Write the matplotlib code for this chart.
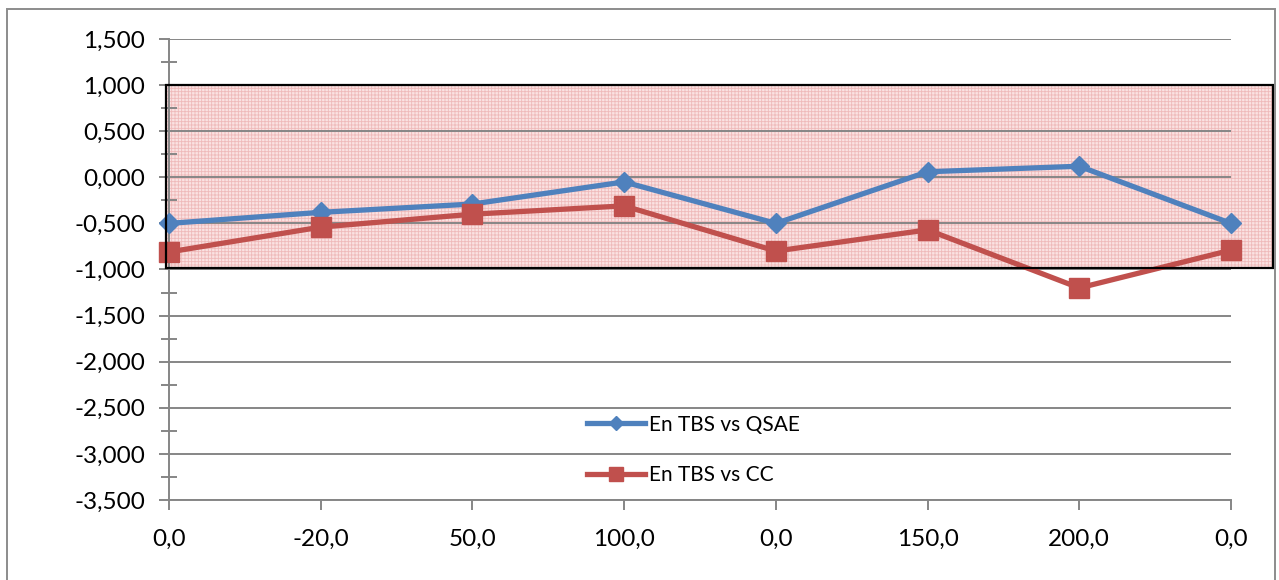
import matplotlib
matplotlib.use("Agg")
import matplotlib.pyplot as plt
from matplotlib.patches import Rectangle
import numpy as np

# category labels along the bottom axis
categories = ["0,0", "-20,0", "50,0", "100,0", "0,0", "150,0", "200,0", "0,0"]

# En values per category
en_qsae = [-0.50, -0.38, -0.29, -0.05, -0.50, 0.06, 0.12, -0.50]
en_cc = [-0.81, -0.54, -0.40, -0.31, -0.80, -0.57, -1.20, -0.79]

# acceptance band |En| <= 1
band_low, band_high = -0.98, 1.0

plt.rcParams["font.family"] = ["Lato", "DejaVu Sans"]
plt.rcParams["hatch.linewidth"] = 0.6

W, H = 1279, 580
fig = plt.figure(figsize=(W / 100, H / 100), dpi=100)
ax = fig.add_axes([169 / W, 1 - 500 / H, (1231 - 169) / W, (500 - 39) / H])

grid_c = "#868686"
blue = "#4F81BD"
red = "#C0504D"

x = np.arange(len(categories))

ax.set_xlim(0, len(categories) - 1)
ax.set_ylim(-3.5, 1.5)
yt = np.arange(-3.5, 1.51, 0.5)
ax.set_yticks(yt)
ax.set_yticklabels([f"{v:,.3f}".replace(".", ",") if abs(v) > 1e-9 else "0,000" for v in yt])
ax.set_yticks(np.arange(-3.25, 1.5, 0.5), minor=True)
ax.set_xticks(x)
ax.set_xticklabels(categories)

ax.grid(axis="y", color=grid_c, linewidth=1.4, zorder=0)
for s in ["top", "right"]:
    ax.spines[s].set_visible(False)
for s in ["left", "bottom"]:
    ax.spines[s].set_color(grid_c)
    ax.spines[s].set_linewidth(1.4)

ax.tick_params(axis="y", which="major", length=7, width=1.4, color=grid_c,
               labelsize=17.5, pad=10, direction="out")
ax.tick_params(axis="y", which="minor", length=12, width=1.4, color=grid_c,
               direction="inout")
ax.tick_params(axis="x", length=7, width=1.4, color=grid_c, labelsize=17.5, pad=14)

# shaded band
x0, x1 = -0.02, 7.28
ax.add_patch(Rectangle((x0, band_low), x1 - x0, band_high - band_low,
                       facecolor="#fae2e2", edgecolor="#efbaba", linewidth=0,
                       hatch="+++++", zorder=1, clip_on=False))

ax.plot(x, en_qsae, color=blue, linewidth=3.8, marker="D", markersize=10,
        label="En TBS vs QSAE", zorder=3, clip_on=False)
ax.plot(x, en_cc, color=red, linewidth=3.8, marker="s", markersize=14,
        label="En TBS vs CC", zorder=3, clip_on=False)

ax.add_patch(Rectangle((x0, band_low), x1 - x0, band_high - band_low,
                       facecolor="none", edgecolor="black", linewidth=1.6,
                       zorder=4, clip_on=False))

leg = ax.legend(loc="upper left", bbox_to_anchor=(410 / (1231 - 169), 0.203),
                frameon=False, fontsize=15, handlelength=2.75, handletextpad=0.2,
                labelspacing=1.45, markerscale=0.75, borderaxespad=0)

# chart border
fig.patches.append(Rectangle((7 / W, -0.05), (1275 - 7) / W, 1 - 9 / H + 0.05,
                             transform=fig.transFigure, facecolor="none",
                             edgecolor="#8c8c8c", linewidth=1.4))

fig.savefig("out.png", dpi=100)
